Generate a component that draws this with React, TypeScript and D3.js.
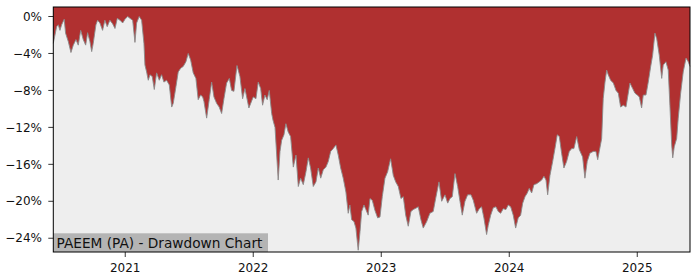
import React from "react";
import * as d3 from "d3";

const years: number[] = [
  2020.438, 2020.464, 2020.477, 2020.490, 2020.503, 2020.523, 2020.534, 2020.555, 2020.576, 2020.594,
  2020.615, 2020.633, 2020.652, 2020.672, 2020.691, 2020.706, 2020.724, 2020.738, 2020.750, 2020.771,
  2020.784, 2020.802, 2020.823, 2020.841, 2020.859, 2020.880, 2020.902, 2020.920, 2020.938, 2020.959,
  2020.980, 2020.998, 2021.019, 2021.037, 2021.058, 2021.076, 2021.089, 2021.109, 2021.128, 2021.146,
  2021.154, 2021.167, 2021.180, 2021.193, 2021.211, 2021.227, 2021.245, 2021.266, 2021.284, 2021.302,
  2021.323, 2021.344, 2021.363, 2021.375, 2021.396, 2021.414, 2021.433, 2021.453, 2021.474, 2021.492,
  2021.511, 2021.531, 2021.552, 2021.570, 2021.589, 2021.605, 2021.615, 2021.636, 2021.656, 2021.675,
  2021.693, 2021.714, 2021.734, 2021.753, 2021.771, 2021.792, 2021.813, 2021.831, 2021.849, 2021.873,
  2021.896, 2021.917, 2021.935, 2021.966, 2022.000, 2022.021, 2022.039, 2022.058, 2022.073, 2022.091,
  2022.109, 2022.125, 2022.144, 2022.154, 2022.170, 2022.195, 2022.209, 2022.222, 2022.240, 2022.255,
  2022.273, 2022.292, 2022.313, 2022.334, 2022.352, 2022.370, 2022.391, 2022.412, 2022.430, 2022.448,
  2022.469, 2022.490, 2022.508, 2022.527, 2022.547, 2022.568, 2022.586, 2022.605, 2022.625, 2022.646,
  2022.664, 2022.683, 2022.703, 2022.724, 2022.742, 2022.755, 2022.769, 2022.787, 2022.802, 2022.820,
  2022.834, 2022.847, 2022.865, 2022.880, 2022.898, 2022.912, 2022.930, 2022.951, 2022.972, 2022.990,
  2023.008, 2023.029, 2023.050, 2023.073, 2023.094, 2023.113, 2023.133, 2023.154, 2023.172, 2023.191,
  2023.211, 2023.232, 2023.250, 2023.277, 2023.289, 2023.310, 2023.328, 2023.355, 2023.380, 2023.406,
  2023.425, 2023.451, 2023.472, 2023.498, 2023.519, 2023.537, 2023.555, 2023.576, 2023.597, 2023.615,
  2023.633, 2023.654, 2023.675, 2023.701, 2023.719, 2023.745, 2023.766, 2023.784, 2023.802, 2023.823,
  2023.836, 2023.855, 2023.875, 2023.896, 2023.914, 2023.933, 2023.953, 2023.974, 2023.992, 2024.011,
  2024.031, 2024.050, 2024.070, 2024.089, 2024.105, 2024.123, 2024.141, 2024.156, 2024.175, 2024.193,
  2024.214, 2024.234, 2024.253, 2024.271, 2024.287, 2024.300, 2024.318, 2024.339, 2024.357, 2024.375,
  2024.391, 2024.409, 2024.427, 2024.448, 2024.469, 2024.488, 2024.505, 2024.527, 2024.547, 2024.573,
  2024.591, 2024.609, 2024.630, 2024.656, 2024.677, 2024.691, 2024.703, 2024.722, 2024.734, 2024.748,
  2024.761, 2024.773, 2024.792, 2024.813, 2024.834, 2024.852, 2024.870, 2024.891, 2024.912, 2024.925,
  2024.943, 2024.964, 2024.982, 2025.000, 2025.016, 2025.034, 2025.047, 2025.068, 2025.086, 2025.105,
  2025.120, 2025.138, 2025.152, 2025.172, 2025.191, 2025.203, 2025.224, 2025.242, 2025.255, 2025.269,
  2025.277, 2025.289, 2025.308, 2025.320, 2025.339, 2025.359, 2025.381, 2025.398, 2025.412,
];

const drawdown: number[] = [
  -2.9, -1.1, -0.9, -1.5, -0.9, -0.3, -1.8, -2.7, -3.9, -3.1,
  -2.5, -3.1, -1.5, -2.5, -3.1, -1.75, -2.7, -3.8, -2.9, -0.9,
  -0.4, -0.7, -1.5, -0.4, -1.1, -0.4, -0.8, -1.3, -0.2, -0.4,
  -0.7, -0.3, 0, -0.2, -0.4, -2.8, -0.7, 0, -0.4, -2.9,
  -5.25, -6.0, -6.9, -6.3, -6.5, -7.9, -6.1, -6.9, -6.3, -7.1,
  -6.9, -7.4, -9.8, -9.4, -7.6, -6.0, -5.6, -5.4, -4.9, -4.0,
  -4.7, -6.1, -6.7, -9.0, -8.5, -8.7, -9.2, -11.0, -9.0, -7.1,
  -8.7, -9.4, -9.8, -10.5, -8.9, -7.2, -6.7, -8.0, -8.1, -5.3,
  -6.5, -8.9, -7.8, -9.9, -8.7, -8.9, -7.1, -7.8, -9.6, -8.5,
  -9.0, -8.0, -10.5, -11.2, -12.0, -17.7, -14.6, -13.4, -12.8, -11.6,
  -12.5, -13.0, -16.3, -15.0, -18.4, -17.5, -18.2, -16.8, -15.3, -16.4,
  -18.4, -17.9, -16.4, -17.5, -16.6, -16.3, -15.7, -14.6, -14.3, -13.9,
  -15.0, -16.4, -17.5, -19.0, -21.3, -20.4, -22.0, -22.2, -22.9, -25.3,
  -23.3, -21.1, -20.4, -20.9, -21.5, -19.7, -19.9, -21.0, -21.8, -21.7,
  -19.5, -17.5, -16.8, -15.4, -17.2, -17.9, -18.4, -19.7, -19.5, -21.5,
  -22.7, -21.1, -20.9, -20.7, -20.6, -22.0, -22.9, -22.2, -21.3, -21.1,
  -19.7, -17.9, -20.0, -19.3, -20.2, -19.7, -19.5, -17.0, -18.4, -20.0,
  -21.5, -20.0, -19.3, -19.3, -19.9, -21.3, -20.8, -20.6, -21.8, -23.6,
  -22.6, -21.5, -20.7, -20.6, -21.1, -21.3, -20.8, -20.9, -20.4, -20.6,
  -21.5, -22.9, -21.8, -21.5, -20.2, -19.5, -19.1, -18.6, -19.1, -18.2,
  -18.1, -17.9, -17.7, -17.3, -17.7, -19.3, -17.2, -15.7, -14.3, -12.8,
  -13.0, -14.8, -16.4, -15.7, -14.6, -14.3, -14.3, -13.0, -14.4, -15.2,
  -17.5, -15.7, -14.8, -14.6, -14.6, -15.5, -14.6, -13.2, -8.9, -7.1,
  -5.8, -6.3, -6.9, -7.2, -8.0, -8.3, -9.8, -9.6, -9.8, -8.7,
  -7.2, -7.8, -8.3, -8.5, -8.7, -9.9, -8.5, -8.5, -7.1, -5.4,
  -4.2, -1.8, -2.4, -4.2, -6.7, -5.25, -4.9, -5.8, -9.6, -13.9,
  -15.3, -14.1, -13.2, -11.0, -8.3, -6.0, -4.5, -4.9, -5.4,
];

const yTicks: number[] = [0, -4, -8, -12, -16, -20, -24];
const xTicks: number[] = [2021, 2022, 2023, 2024, 2025];
const title = "PAEEM (PA) - Drawdown Chart";

export default function App() {
  const W = 700, H = 280;
  const left = 53.3, right = 690, top = 7, bottom = 252;
  const x = d3.scaleLinear().domain([d3.min(years)!, d3.max(years)!]).range([left, right]);
  const y = d3.scaleLinear().domain([1.03, -25.49]).range([top, bottom]);
  const pts = years.map((t, i) => [t, drawdown[i]] as [number, number]);
  const area = d3.area<[number, number]>().x(d => x(d[0])).y0(top).y1(d => y(d[1]));
  const line = d3.line<[number, number]>().x(d => x(d[0])).y(d => y(d[1]));
  const font = "'DejaVu Sans', sans-serif";
  return (
    <svg width={W} height={H} style={{ position: "absolute", left: 0, top: 0, background: "#fff" }}>
      <rect x={left} y={top} width={right - left} height={bottom - top} fill="#eeeeee" />
      <path d={area(pts)!} fill="#b03030" />
      <path d={line(pts)!} fill="none" stroke="#8a8a8a" strokeWidth={0.9} />
      <rect x={left} y={233.3} width={268 - left} height={bottom - 233.3} fill="#b4b4b4" />
      <text x={56.5} y={247.5} fontFamily={font} fontSize={13.7} fill="#111">{title}</text>
      <rect x={left} y={top} width={right - left} height={bottom - top} fill="none" stroke="#000" strokeWidth={1} />
      {yTicks.map(t => (
        <g key={t}>
          <line x1={left - 5} x2={left} y1={y(t)} y2={y(t)} stroke="#000" strokeWidth={0.8} />
          <text x={42} y={y(t)} dy="0.35em" textAnchor="end" fontFamily={font} fontSize={12} fill="#111">
            {(t < 0 ? "\u2212" + Math.abs(t) : String(t)) + "%"}
          </text>
        </g>
      ))}
      {xTicks.map(t => (
        <g key={t}>
          <line x1={x(t)} x2={x(t)} y1={bottom} y2={bottom + 5} stroke="#000" strokeWidth={0.8} />
          <text x={x(t)} y={271.5} textAnchor="middle" fontFamily={font} fontSize={12} fill="#111">{t}</text>
        </g>
      ))}
    </svg>
  );
}
